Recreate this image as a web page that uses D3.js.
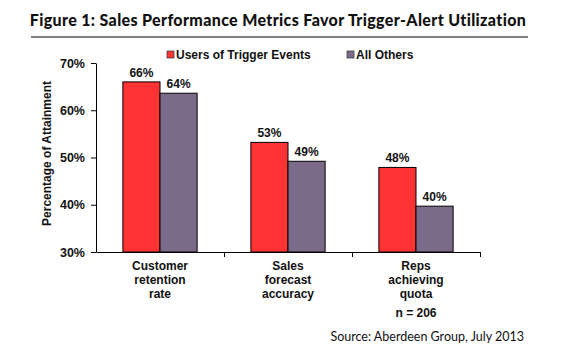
<!DOCTYPE html>
<html lang="en">
<head>
    <meta charset="UTF-8">
    <title>Sales Performance Metrics Favor Trigger-Alert Utilization</title>
    <script src="https://d3js.org/d3.v7.min.js"></script>
    <style>
        body { margin: 0; background: #fff; }
        svg { display: block; }
        .lbl { font-family: "Liberation Sans", Arial, sans-serif; font-weight: bold; font-size: 12px; fill: #111; }
        .axis text { font-family: "Liberation Sans", Arial, sans-serif; font-weight: bold; font-size: 12.5px; fill: #111; }
        .axis path, .axis line { stroke: #000; }
    </style>
</head>
<body>
<div id="chart"></div>
<script>
    // data
    const categories = ["Customer retention rate", "Sales forecast accuracy", "Reps achieving quota"];
    const categoryLines = [["Customer", "retention", "rate"], ["Sales", "forecast", "accuracy"], ["Reps", "achieving", "quota"]];
    const seriesNames = ["Users of Trigger Events", "All Others"];
    const usersTrigger = [66.0, 53.2, 47.9];
    const allOthers = [63.6, 49.2, 39.7];
    const valueLabels = [["66%", "53%", "48%"], ["64%", "49%", "40%"]];
    const yTicks = [30, 40, 50, 60, 70];
    const colors = ["#ff3333", "#7b6a89"];

    const W = 562, H = 351;
    const plot = { left: 96, right: 480, top: 63, bottom: 252 };

    const svg = d3.select("#chart").append("svg")
        .attr("width", W).attr("height", H);

    // title + rule
    svg.append("text")
        .attr("x", 278).attr("y", 26)
        .attr("text-anchor", "middle")
        .style("font-family", "Lato, sans-serif")
        .style("font-weight", "900")
        .style("font-size", "16px")
        .style("letter-spacing", "0.35px")
        .style("fill", "#111")
        .text("Figure 1: Sales Performance Metrics Favor Trigger-Alert Utilization");

    svg.append("line")
        .attr("x1", 31).attr("x2", 528)
        .attr("y1", 37).attr("y2", 37)
        .attr("stroke", "#000").attr("stroke-width", 1.2);

    const x = d3.scaleBand()
        .domain(categories)
        .range([plot.left, plot.right])
        .paddingInner(0.42)
        .paddingOuter(0.21);

    const xSub = d3.scaleBand()
        .domain(seriesNames)
        .range([0, x.bandwidth()]);

    const y = d3.scaleLinear()
        .domain([30, 70])
        .range([plot.bottom, plot.top]);

    // y axis
    svg.append("g")
        .attr("class", "axis")
        .attr("transform", `translate(${plot.left},0)`)
        .call(d3.axisLeft(y).tickValues(yTicks).tickSize(5).tickSizeOuter(0).tickPadding(6).tickFormat(d => d + "%"));

    // x axis: ticks on category boundaries
    const xEdge = d3.scaleLinear().domain([0, categories.length]).range([plot.left, plot.right]);
    svg.append("g")
        .attr("class", "axis")
        .attr("transform", `translate(0,${plot.bottom})`)
        .call(d3.axisBottom(xEdge).tickValues([1, 2, 3]).tickSize(5).tickSizeOuter(0).tickFormat(""));

    // bars
    const series = [usersTrigger, allOthers];
    series.forEach((vals, s) => {
        svg.append("g").selectAll("rect")
            .data(vals)
            .enter()
            .append("rect")
            .attr("x", (d, i) => x(categories[i]) + xSub(seriesNames[s]))
            .attr("y", d => y(d))
            .attr("width", xSub.bandwidth())
            .attr("height", d => y(30) - y(d))
            .attr("fill", colors[s])
            .attr("stroke", "#000")
            .attr("stroke-width", 1);

        svg.append("g").selectAll("text")
            .data(vals)
            .enter()
            .append("text")
            .attr("class", "lbl")
            .attr("x", (d, i) => x(categories[i]) + xSub(seriesNames[s]) + xSub.bandwidth() / 2)
            .attr("y", d => y(d) - 5)
            .attr("text-anchor", "middle")
            .text((d, i) => valueLabels[s][i]);
    });

    // category labels
    categories.forEach((c, i) => {
        const t = svg.append("text")
            .attr("class", "lbl")
            .attr("text-anchor", "middle")
            .attr("x", x(c) + x.bandwidth() / 2)
            .attr("y", 270);
        categoryLines[i].forEach((line, k) => {
            t.append("tspan")
                .attr("x", x(c) + x.bandwidth() / 2)
                .attr("dy", k === 0 ? 0 : 14)
                .text(line);
        });
    });

    svg.append("text")
        .attr("class", "lbl")
        .attr("text-anchor", "middle")
        .attr("x", x(categories[2]) + x.bandwidth() / 2)
        .attr("y", 317)
        .text("n = 206");

    // y axis title
    svg.append("text")
        .attr("class", "lbl")
        .attr("transform", "rotate(-90)")
        .attr("x", -(plot.top + plot.bottom) / 2 + 4)
        .attr("y", 51)
        .attr("text-anchor", "middle")
        .text("Percentage of Attainment");

    // legend
    const legendX = [167, 347];
    seriesNames.forEach((name, s) => {
        svg.append("rect")
            .attr("x", legendX[s]).attr("y", 51)
            .attr("width", 7).attr("height", 7)
            .attr("fill", colors[s])
            .attr("stroke", "#444").attr("stroke-width", 0.8);
        svg.append("text")
            .attr("class", "lbl")
            .attr("x", legendX[s] + 9).attr("y", 59)
            .text(name);
    });

    // source
    svg.append("text")
        .attr("x", 524).attr("y", 341)
        .attr("text-anchor", "end")
        .style("font-family", "Lato, sans-serif")
        .style("font-size", "12.5px")
        .style("fill", "#111")
        .text("Source: Aberdeen Group, July 2013");
</script>
</body>
</html>
